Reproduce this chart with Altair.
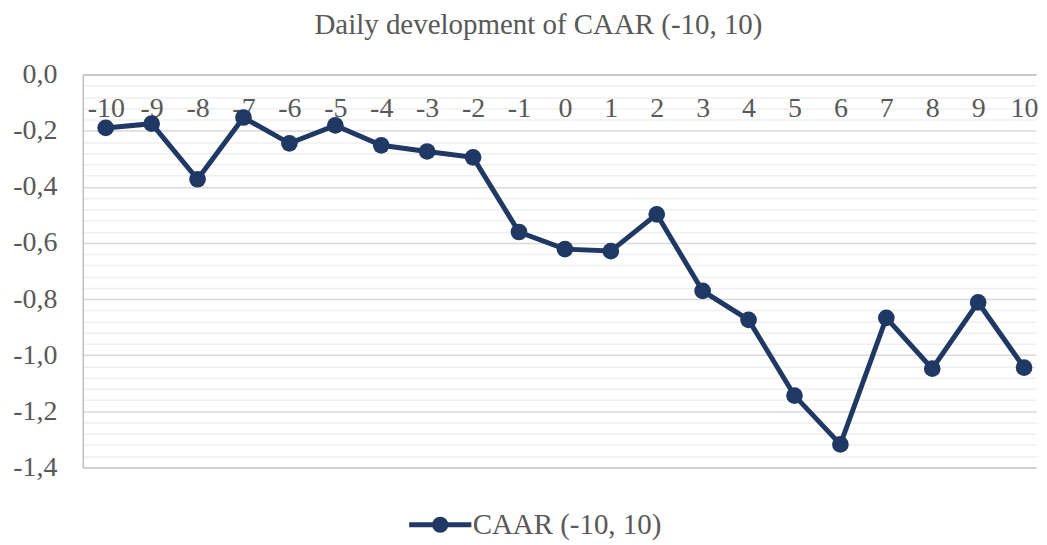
import altair as alt
import pandas as pd

days = [-10, -9, -8, -7, -6, -5, -4, -3, -2, -1, 0, 1, 2, 3, 4, 5, 6, 7, 8, 9, 10]
caar = [-0.190, -0.175, -0.373, -0.153, -0.245, -0.181, -0.252, -0.274, -0.295,
        -0.561, -0.622, -0.629, -0.498, -0.771, -0.874, -1.144, -1.318, -0.867,
        -1.048, -0.812, -1.044]
series_name = "CAAR (-10, 10)"
y_ticks = [0.0, -0.04, -0.08, -0.12, -0.16, -0.2, -0.24, -0.28, -0.32, -0.36, -0.4,
           -0.44, -0.48, -0.52, -0.56, -0.6, -0.64, -0.68, -0.72, -0.76, -0.8,
           -0.84, -0.88, -0.92, -0.96, -1.0, -1.04, -1.08, -1.12, -1.16, -1.2,
           -1.24, -1.28, -1.32, -1.36, -1.4]

df = pd.DataFrame({"day": days, "caar": caar, "series": [series_name] * len(days)})

FONT = "Liberation Serif"
GREY = "#595959"
NAVY = "#203864"

# legend glyph: long line with a dot in the middle (units scaled by sqrt(size)/2 = 8px)
legend_path = ("M-3.9,0L3.9,0M0.7,0A0.7,0.7,0,1,1,-0.7,0A0.7,0.7,0,1,1,0.7,0Z")

x_enc = alt.X(
    "day:Q",
    scale=alt.Scale(domain=[-10.5, 10.26], nice=False, zero=False),
    axis=alt.Axis(
        orient="top", title=None, values=days, ticks=False,
        labelExpr="'' + datum.value",
        grid=False, domainColor="#bfbfbf", domainWidth=1.5,
        labelPadding=-34, labelBaseline="middle", labelAngle=0,
        labelFontSize=28, labelFont=FONT, labelColor=GREY,
        labelFlush=False, labelOverlap=False,
    ),
)
y_enc = alt.Y(
    "caar:Q",
    scale=alt.Scale(domain=[-1.4, 0], nice=False, zero=False),
    axis=alt.Axis(
        title=None, values=y_ticks, ticks=False,
        labelExpr="abs(datum.value*5 - round(datum.value*5)) < 0.001 ? "
                  "((datum.value < -0.001 ? '-' : '') + "
                  "replace(format(abs(datum.value), '.1f'), '.', ',')) : ''",
        labelFontSize=28, labelFont=FONT, labelColor=GREY, labelPadding=26,
        domainColor="#bfbfbf", domainWidth=1.5,
        gridColor={"condition": [
            {"test": "datum.value < -1.39", "value": "#bfbfbf"},
            {"test": "abs(datum.value*5 - round(datum.value*5)) < 0.001",
             "value": "#d9d9d9"}],
            "value": "#efefef"},
        gridWidth=1.5, minExtent=75, maxExtent=75,
        labelOverlap=False, labelFlush=False,
    ),
)
color_enc = alt.Color(
    "series:N",
    scale=alt.Scale(range=[NAVY]),
    legend=alt.Legend(
        title=None, orient="none", legendX=344, legendY=437,
        symbolType=legend_path, symbolSize=256, symbolStrokeWidth=5,
        symbolFillColor=NAVY, symbolStrokeColor=NAVY, symbolOpacity=1,
        labelFontSize=29, labelFont=FONT, labelColor=GREY, labelOffset=18,
        labelLimit=500, padding=0,
    ),
)

base = alt.Chart(df).encode(x=x_enc, y=y_enc, color=color_enc)
line = base.mark_line(strokeWidth=5)
pts = base.mark_point(filled=True, size=280, opacity=1)

chart = (line + pts).properties(
    width=956, height=394,
    title=alt.TitleParams(
        text="Daily development of CAAR (-10, 10)", font=FONT, fontSize=29,
        fontWeight="normal", color=GREY, offset=21, dx=-21,
    ),
    padding={"left": 0, "top": 2, "right": 0, "bottom": 0},
).configure_view(stroke=None)

chart.save("out.html", embed_options={"renderer": "svg", "actions": False})
